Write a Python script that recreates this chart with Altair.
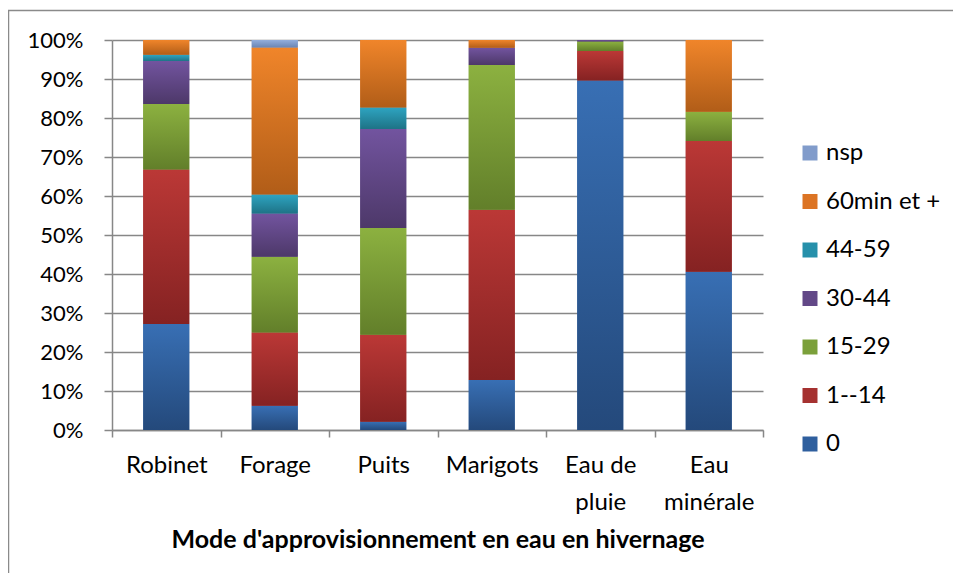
import altair as alt
import pandas as pd

categories = ["Robinet", "Forage", "Puits", "Marigots", "Eau de\npluie", "Eau\nminérale"]
series = ["0", "1--14", "15-29", "30-44", "44-59", "60min et +", "nsp"]
v_0 = [27.2, 6.2, 2.1, 12.8, 89.6, 40.6]
v_1_14 = [39.6, 18.8, 22.3, 43.7, 7.6, 33.5]
v_15_29 = [16.8, 19.4, 27.4, 37.1, 2.4, 7.5]
v_30_44 = [11.0, 11.1, 25.4, 4.4, 0.4, 0.0]
v_44_59 = [1.6, 4.9, 5.5, 0.0, 0.0, 0.0]
v_60 = [3.8, 37.7, 17.3, 2.0, 0.0, 18.4]
v_nsp = [0.0, 1.9, 0.0, 0.0, 0.0, 0.0]
values = [v_0, v_1_14, v_15_29, v_30_44, v_44_59, v_60, v_nsp]
y_ticks = [0, 0.1, 0.2, 0.3, 0.4, 0.5, 0.6, 0.7, 0.8, 0.9, 1.0]

flat = ["#2f5f9e", "#a53130", "#7ba03a", "#624887", "#2690aa", "#dc7424", "#819ccb"]
grad_top = ["#386fb4", "#bb3836", "#8cb140", "#72549f", "#2ea4c1", "#f0852a", "#93aedc"]
grad_bot = ["#24497b", "#852222", "#627f2a", "#4d3869", "#1e7386", "#b15d18", "#6b86b3"]

rows = []
for si, (s, vals) in enumerate(zip(series, values)):
    for c, v in zip(categories, vals):
        rows.append({"cat": c, "series": s, "order": si, "value": v})
df = pd.DataFrame(rows)

FONT = "Lato"
GRAY = "#878787"

base = alt.Chart(df).transform_stack(
    stack="value", groupby=["cat"], sort=[alt.SortField("order")],
    as_=["v0", "v1"], offset="normalize"
)

xenc = alt.X(
    "cat:N", sort=categories,
    scale=alt.Scale(paddingInner=0, paddingOuter=0),
    axis=alt.Axis(
        title="Mode d'approvisionnement en eau en hivernage",
        titleFontSize=25, titleFontWeight="bold", titleFont=FONT, titleColor="black",
        titleY=109, titleBaseline="middle",
        labelAngle=0, labelFontSize=24, labelFont=FONT, labelColor="black",
        labelLineHeight=37, labelPadding=16, labelExpr="split(datum.label, '\\n')",
        tickBand="extent", tickSize=7, tickColor=GRAY, tickWidth=1.5,
        domainColor=GRAY, domainWidth=1.5, grid=False, labelOverlap=False,
    ),
)
yenc = alt.Y(
    "v0:Q", scale=alt.Scale(domain=[0, 1], nice=False),
    axis=alt.Axis(
        title=None, values=y_ticks, tickCount=20, format=".0%",
        labelFontSize=22, labelFont=FONT, labelColor="black", labelPadding=21,
        labelOverlap=False, labelFlush=False,
        tickSize=8, tickColor=GRAY, tickWidth=1.5,
        domainColor=GRAY, domainWidth=1.5,
        grid=True, gridColor=GRAY, gridWidth=1.5,
    ),
)

legend_domain = list(reversed(series))
legend_range = list(reversed(flat))

under = base.mark_bar(width=alt.RelativeBandSize(0.424)).encode(
    x=xenc, y=yenc, y2="v1:Q",
    color=alt.Color(
        "series:N",
        scale=alt.Scale(domain=legend_domain, range=legend_range),
        legend=alt.Legend(
            orient="none", legendX=686, legendY=101, title=None,
            labelFontSize=24, labelFont=FONT, labelColor="black",
            symbolType="square", symbolSize=225, symbolStrokeWidth=0,
            rowPadding=24.5, labelOffset=4,
        ),
    ),
)

layers = [under]
for si, s in enumerate(series):
    g = alt.Gradient(
        gradient="linear",
        stops=[alt.GradientStop(color=grad_top[si], offset=0),
               alt.GradientStop(color=grad_bot[si], offset=1)],
        x1=0, x2=0, y1=0, y2=1,
    )
    layers.append(
        base.transform_filter(alt.datum.series == s)
        .mark_bar(color=g, width=alt.RelativeBandSize(0.424))
        .encode(
            x=alt.X("cat:N", sort=categories, axis=None),
            y=alt.Y("v0:Q", axis=None),
            y2="v1:Q",
        )
    )

frame = alt.Chart(pd.DataFrame({"a": [0]})).mark_rect(
    filled=False, stroke="#8a8a8a", strokeWidth=1.5
).encode(
    x=alt.value(-103.5), x2=alt.value(1000), y=alt.value(-29.5), y2=alt.value(700)
)
layers.append(frame)

chart = alt.layer(*layers).properties(
    width=651, height=390,
    background="white",
    autosize=alt.AutoSizeParams(type="none"),
    padding={"left": 104, "top": 32, "right": 190, "bottom": 143},
).resolve_axis(x="independent", y="independent").configure_view(stroke=None)

chart.save("out.html", embed_options={"renderer": "svg", "actions": False})
